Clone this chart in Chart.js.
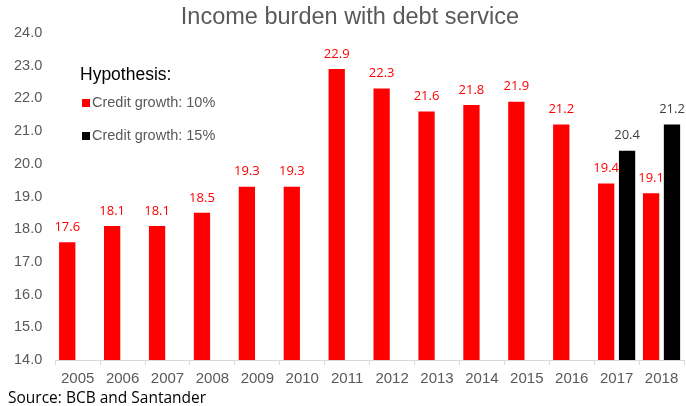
<!DOCTYPE html>
<html>
<head>
<meta charset="utf-8">
<script src="https://cdn.jsdelivr.net/npm/chart.js@4"></script>
<style>
  html, body { margin: 0; padding: 0; background: #fff; }
  #wrap { width: 686px; height: 406px; position: relative; }
</style>
</head>
<body>
<div id="wrap"><canvas id="barCanvas"></canvas></div>
<script>
const years = ['2005', '2006', '2007', '2008', '2009', '2010', '2011', '2012', '2013', '2014', '2015', '2016', '2017', '2018'];
const growth10 = [17.6, 18.1, 18.1, 18.5, 19.3, 19.3, 22.9, 22.3, 21.6, 21.8, 21.9, 21.2, 19.4, 19.1];
const growth15 = [null, null, null, null, null, null, null, null, null, null, null, null, 20.4, 21.2];
const seriesNames = ['Credit growth: 10%', 'Credit growth: 15%'];
const titleText = 'Income burden with debt service';
const legendTitle = 'Hypothesis:';
const sourceText = 'Source: BCB and Santander';

const gray = '#595959';

// value labels above each bar
const valueLabels = {
    id: 'valueLabels',
    afterDatasetsDraw(chart) {
        const ctx = chart.ctx;
        ctx.save();
        ctx.font = '13px "Open Sans", sans-serif';
        ctx.textAlign = 'center';
        ctx.textBaseline = 'middle';
        chart.data.datasets.forEach((ds, i) => {
            const meta = chart.getDatasetMeta(i);
            meta.data.forEach((bar, j) => {
                const v = ds.data[j];
                if (v === null) return;
                ctx.fillStyle = ds.labelColor;
                ctx.fillText(v.toFixed(1), bar.x, bar.y - 15);
            });
        });
        ctx.restore();
    }
};

// title, legend box inside the plot, source line
const extras = {
    id: 'extras',
    afterDraw(chart) {
        const ctx = chart.ctx;
        ctx.save();
        ctx.textBaseline = 'middle';
        ctx.textAlign = 'center';
        ctx.fillStyle = gray;
        ctx.font = '23.5px "Liberation Sans", Arial, sans-serif';
        ctx.fillText(titleText, 350, 18);

        ctx.textAlign = 'left';
        ctx.fillStyle = '#000';
        ctx.font = '17.5px "Liberation Sans", Arial, sans-serif';
        ctx.fillText(legendTitle, 80, 75);
        const rows = [103, 136];
        chart.data.datasets.forEach((ds, i) => {
            ctx.fillStyle = ds.backgroundColor;
            ctx.fillRect(82, rows[i] - 4, 8, 8);
            ctx.fillStyle = gray;
            ctx.font = '14.5px "Liberation Sans", Arial, sans-serif';
            ctx.fillText(ds.label, 92, rows[i]);
        });
        ctx.fillStyle = '#000';
        ctx.font = '15.5px "Open Sans", sans-serif';
        ctx.fillText(sourceText, 8, 399);
        ctx.restore();
    }
};

Chart.defaults.font.family = '"Liberation Sans", Arial, sans-serif';
Chart.defaults.color = gray;

const barCanvas = document.getElementById('barCanvas');

new Chart(barCanvas, {
    type: 'bar',
    data: {
        labels: years,
        datasets: [{
            label: seriesNames[0],
            data: growth10,
            backgroundColor: '#FF0000',
            labelColor: '#FF0000',
            categoryPercentage: 0.93,
            barPercentage: 0.78
        }, {
            label: seriesNames[1],
            data: growth15,
            backgroundColor: '#000000',
            labelColor: '#404040',
            categoryPercentage: 0.93,
            barPercentage: 0.78
        }]
    },
    options: {
        responsive: true,
        maintainAspectRatio: false,
        animation: false,
        layout: { padding: { left: 1, right: 2, top: 33, bottom: 13 } },
        plugins: {
            legend: { display: false },
            tooltip: { enabled: false },
            title: { display: false }
        },
        scales: {
            x: {
                offset: true,
                grid: { display: true, drawOnChartArea: false, tickLength: 5, color: '#d9d9d9' },
                border: { display: true, color: '#d9d9d9' },
                ticks: { font: { size: 15 }, color: gray, padding: 5, maxRotation: 0 }
            },
            y: {
                min: 14,
                max: 24,
                grid: { display: false, drawTicks: false },
                border: { display: false },
                ticks: {
                    stepSize: 1,
                    padding: 13,
                    font: { size: 14.5 },
                    color: gray,
                    callback: v => v.toFixed(1)
                }
            }
        }
    },
    plugins: [valueLabels, extras]
});
</script>
</body>
</html>
